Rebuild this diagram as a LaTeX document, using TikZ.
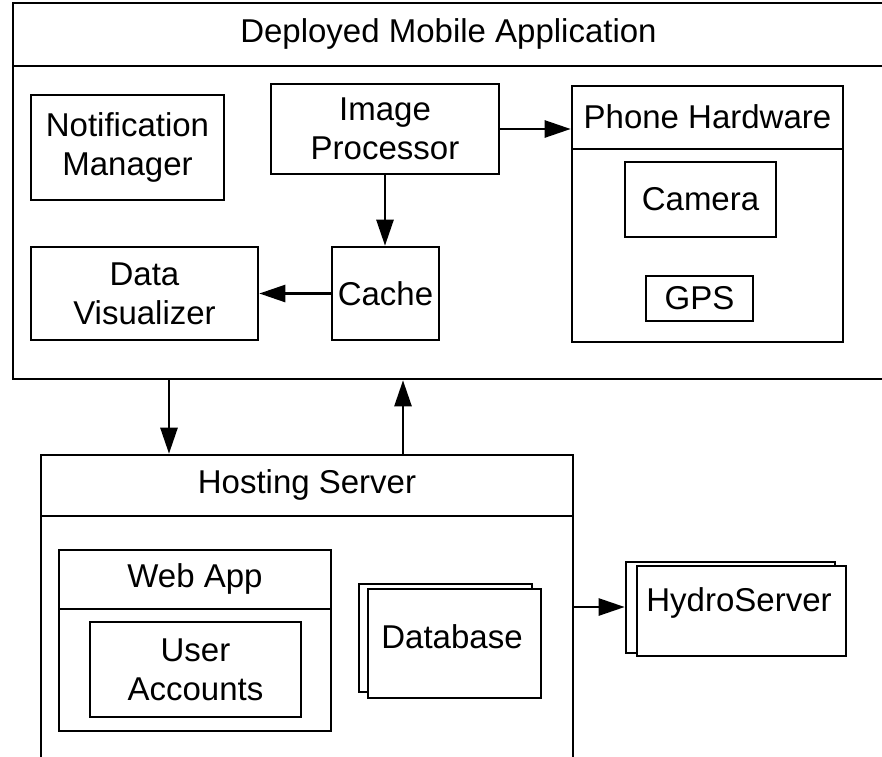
\documentclass[tikz,border=0pt]{standalone}
\usepackage{fontspec}
\setmainfont{Liberation Sans}
\usetikzlibrary{arrows.meta}
\begin{document}
\begin{tikzpicture}[x=1pt, y=-1pt,
  lw/.style={line width=2.6pt},
  box/.style={draw, lw, inner sep=0pt, align=center,
    font=\fontsize{33}{39}\selectfont},
  label/.style={inner sep=0pt, align=center, font=\fontsize{33}{39}\selectfont},
  flow/.style={lw, -{Triangle[length=26pt, width=17pt]}},
]
\clip (0,0) rectangle (882,756);
\fill[white] (0,0) rectangle (882,756);

% ---- Deployed mobile application ----
\node[box, minimum width=871, minimum height=376] (mob) at (448.5,191) {};
\node[label, minimum width=871, minimum height=64, anchor=north] (mobt) at (mob.north) {Deployed Mobile Application};
\draw[lw] (mobt.south west) -- (mobt.south east);

\node[box, minimum width=193, minimum height=105] (nm) at (127.5,147.5) {Notification\\Manager};
\node[box, minimum width=228, minimum height=90] (ip) at (385,129) {Image\\Processor};
\node[box, minimum width=107, minimum height=93] (cache) at (385.5,293.5) {Cache};
\node[box, minimum width=227, minimum height=93] (dv) at (144.5,293.5) {Data\\Visualizer};

% phone hardware container
\node[box, minimum width=271, minimum height=256] (ph) at (707.5,214) {};
\node[label, minimum width=271, minimum height=64, anchor=north] (pht) at (ph.north) {Phone Hardware};
\draw[lw] (pht.south west) -- (pht.south east);
\node[box, minimum width=151, minimum height=75] (cam) at (700.5,199.5) {Camera};
\node[box, minimum width=107, minimum height=45] (gps) at (699.5,298.5) {GPS};

% ---- Hosting server ----
\node[box, minimum width=532, minimum height=306] (host) at (307,608) {};
\node[label, minimum width=532, minimum height=62, anchor=north] (hostt) at (host.north) {Hosting Server};
\draw[lw] (hostt.south west) -- (hostt.south east);

\node[box, minimum width=272, minimum height=181] (web) at (195,640.5) {};
\node[label, minimum width=272, minimum height=60, anchor=north] (webt) at (web.north) {Web App};
\draw[lw] (webt.south west) -- (webt.south east);
\node[box, minimum width=211, minimum height=95] (ua) at (195.5,669.5) {User\\Accounts};

% database (stacked)
\node[box, fill=white, minimum width=173, minimum height=108] (dbback) at (445.5,638) {};
\node[box, fill=white, minimum width=173, minimum height=109] (db) at (454.5,643.5) {};
\node[label] (dbl) at (452,637) {Database};

% ---- HydroServer (stacked) ----
\node[box, fill=white, minimum width=209, minimum height=91] (hsback) at (730.5,607.5) {};
\node[box, fill=white, minimum width=209, minimum height=90] (hs) at (741.5,611) {};
\node[label] (hsl) at (739,603) {HydroServer};

% ---- connectors ----
\draw[flow] (ip.east) -- (ip.east -| ph.west);
\draw[flow] (ip.south) -- (ip.south |- cache.north);
\draw[flow] (cache.west) -- (cache.west -| dv.east);

\coordinate (down) at (169,0);
\coordinate (up) at (403,0);
\coordinate (out) at (0,607);
\draw[flow] (mob.south -| down) -- (host.north -| down);
\draw[flow] (host.north -| up) -- (mob.south -| up);
\draw[flow] (host.east |- out) -- (hsback.west |- out);
\end{tikzpicture}
\end{document}
